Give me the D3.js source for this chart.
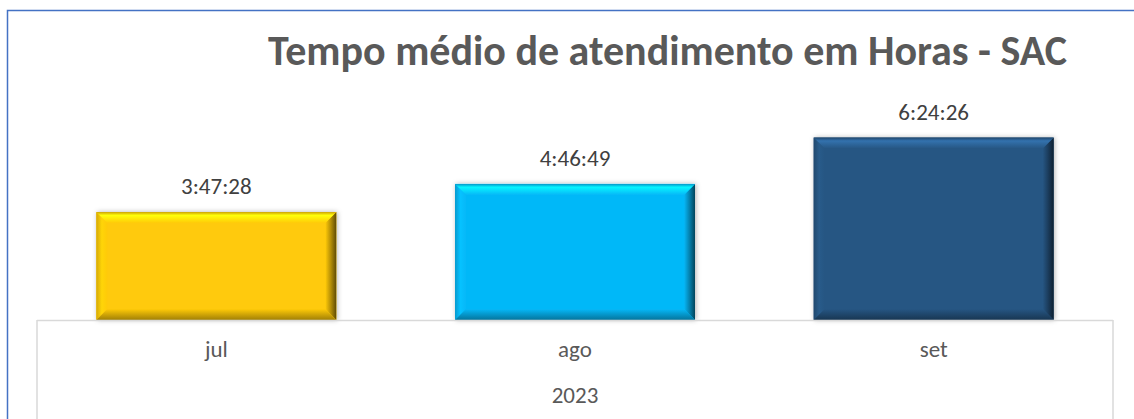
<!DOCTYPE html>
<html>
<head>
<meta charset="utf-8">
<script src="https://cdn.jsdelivr.net/npm/d3@7"></script>
<style>
  html, body { margin: 0; padding: 0; background: #fff; }
  svg { display: block; }
</style>
</head>
<body>
<svg id="chart" width="1134" height="419"></svg>
<script>
// ---- data ----
const title = "Tempo médio de atendimento em Horas - SAC";
const categories = ["jul", "ago", "set"];
const timeValues = ["3:47:28", "4:46:49", "6:24:26"];
const yearLabel = ["2023"];
const barColors = ["#FFCA08", "#06B8F8", "#265683"];

const toHours = s => { const [h, m, sec] = s.split(":").map(Number); return h + m / 60 + sec / 3600; };
const data = categories.map((c, i) => ({ cat: c, label: timeValues[i], v: toHours(timeValues[i]), color: barColors[i] }));

const svg = d3.select("#chart");
const W = 1134, H = 419;
const font = "Carlito, Calibri, Lato, 'Open Sans', sans-serif";

// outer border
svg.append("rect").attr("x", 7.5).attr("y", 10.5).attr("width", 1140).attr("height", 430)
  .attr("fill", "#fff").attr("stroke", "#4472C4").attr("stroke-width", 1.5);

const plotLeft = 37, plotRight = 1113, baseY = 320;
const x = d3.scaleBand().domain(categories).range([plotLeft, plotRight]).paddingInner(0.3309).paddingOuter(0.1654);
const y = d3.scaleLinear().domain([0, 7.2]).range([baseY, 115]);

const defs = svg.append("defs");
const f = defs.append("filter").attr("id", "shadow").attr("x", "-10%").attr("y", "-10%").attr("width", "120%").attr("height", "120%");
f.append("feDropShadow").attr("dx", 1).attr("dy", 0).attr("stdDeviation", 2.5).attr("flood-color", "#000").attr("flood-opacity", 0.3);

function grad(id, vertical, stops) {
  const g = defs.append("linearGradient").attr("id", id)
    .attr("x1", 0).attr("y1", 0).attr("x2", vertical ? 0 : 1).attr("y2", vertical ? 1 : 0);
  stops.forEach(([o, c]) => g.append("stop").attr("offset", o).attr("stop-color", c));
}

const b = 11;
const bars = svg.append("g");
data.forEach((d, i) => {
  const base = d3.color(d.color);
  const x0 = x(d.cat), x1 = x0 + x.bandwidth(), y0 = y(d.v), y1 = y(0);
  const g = bars.append("g");
  g.append("rect").attr("x", x0).attr("y", y0).attr("width", x1 - x0).attr("height", y1 - y0)
    .attr("fill", d.color).attr("filter", "url(#shadow)");
  grad("top" + i, true, [[0, base.darker(0.6)], [0.3, base.brighter(0.8)], [1, d.color]]);
  grad("left" + i, false, [[0, base.darker(0.5)], [0.5, base.brighter(0.15)], [1, d.color]]);
  grad("right" + i, false, [[0, d.color], [0.5, base.darker(1.0)], [1, base.darker(2.8)]]);
  grad("bot" + i, true, [[0, d.color], [1, base.darker(1.3)]]);
  const poly = (pts, fill) => g.append("polygon").attr("points", pts.map(p => p.join(",")).join(" ")).attr("fill", fill);
  poly([[x0, y0], [x0 + b, y0 + b], [x0 + b, y1 - b], [x0, y1]], `url(#left${i})`);
  poly([[x1, y0], [x1, y1], [x1 - b, y1 - b], [x1 - b, y0 + b]], `url(#right${i})`);
  poly([[x0, y1], [x0 + b, y1 - b], [x1 - b, y1 - b], [x1, y1]], `url(#bot${i})`);
  poly([[x0, y0], [x1, y0], [x1 - b, y0 + b], [x0 + b, y0 + b]], `url(#top${i})`);
  // value label
  svg.append("text").attr("x", x0 + x.bandwidth() / 2).attr("y", y0 - 18)
    .attr("text-anchor", "middle").attr("font-family", font).attr("font-size", 23)
    .attr("fill", "#404040").text(d.label);
});

// axis lines
const ax = svg.append("g").attr("stroke", "#D9D9D9").attr("stroke-width", 1.5).attr("fill", "none");
ax.append("line").attr("x1", plotLeft).attr("x2", plotRight).attr("y1", baseY + 0.5).attr("y2", baseY + 0.5);
ax.append("line").attr("x1", plotLeft).attr("x2", plotLeft).attr("y1", baseY).attr("y2", H);
ax.append("line").attr("x1", plotRight).attr("x2", plotRight).attr("y1", baseY).attr("y2", H);

// category labels
svg.append("g").selectAll("text").data(categories).join("text")
  .attr("x", d => x(d) + x.bandwidth() / 2).attr("y", 357)
  .attr("text-anchor", "middle").attr("font-family", font).attr("font-size", 23)
  .attr("fill", "#595959").text(d => d);

svg.append("text").attr("x", (plotLeft + plotRight) / 2).attr("y", 403)
  .attr("text-anchor", "middle").attr("font-family", font).attr("font-size", 23)
  .attr("fill", "#595959").text(yearLabel[0]);

// title
svg.append("text").attr("x", 667.5).attr("y", 65)
  .attr("text-anchor", "middle").attr("font-family", font).attr("font-size", 42).attr("font-weight", "bold")
  .attr("fill", "#595959").text(title);
</script>
</body>
</html>
